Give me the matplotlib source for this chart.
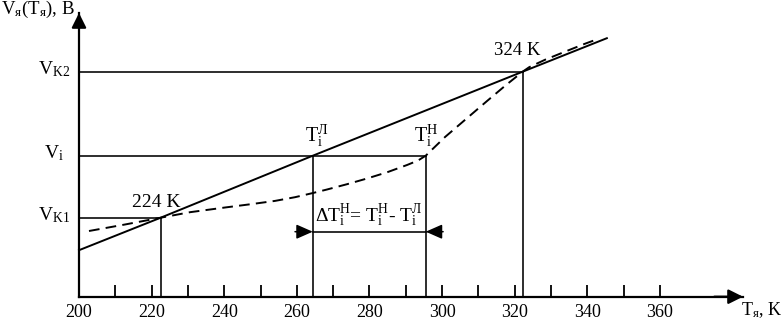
import matplotlib
matplotlib.use('Agg')
import matplotlib.pyplot as plt

plt.rcParams['font.family'] = ['Liberation Serif', 'DejaVu Serif']
plt.rcParams['mathtext.fontset'] = 'custom'
plt.rcParams['mathtext.rm'] = 'Liberation Serif'
plt.rcParams['mathtext.it'] = 'Liberation Serif:italic'
plt.rcParams['mathtext.bf'] = 'Liberation Serif:bold'

# ---- data ----
t_solid = [200, 222.5, 264.4, 322.2, 345.4]
v_solid = [0.465, 0.79, 1.41, 2.25, 2.585]

t_dash = [202.75, 212.67, 222.5, 230.58, 240.22, 247.11, 253.99, 259.50,
          264.46, 268.32, 273.83, 279.34, 284.85, 290.36, 293.39, 295.5,
          300.83, 306.61, 312.40, 317.63, 322.2, 324.0, 328.4, 334.4, 339.4,
          343.0]
v_dash = [0.657, 0.722, 0.79, 0.845, 0.892, 0.924, 0.958, 0.995,
          1.037, 1.072, 1.125, 1.182, 1.244, 1.317, 1.362, 1.41,
          1.597, 1.777, 1.957, 2.117, 2.25, 2.295, 2.37, 2.458, 2.53,
          2.578]

T_K1, T_L, T_H, T_K2 = 222.5, 264.4, 295.5, 322.2
V_K1, V_I, V_K2 = 0.79, 1.41, 2.25

x_major = [200, 220, 240, 260, 280, 300, 320, 340, 360]
x_minor = [210, 230, 250, 270, 290, 310, 330, 350]
y_ticks = [V_K1, V_I, V_K2]
y_labels = [r'V$_{\mathrm{K1}}$', r'V$_{\mathrm{i}}$', r'V$_{\mathrm{K2}}$']

fig = plt.figure(figsize=(7.81, 3.21), dpi=100)
ax = fig.add_axes([79 / 781, 24.3 / 321, 664 / 781, 283.7 / 321])
ax.set_xlim(200, 382.9)
ax.set_ylim(0, 2.837)

for s in ['top', 'right']:
    ax.spines[s].set_visible(False)
for s in ['left', 'bottom']:
    ax.spines[s].set_linewidth(1.6)

ax.set_xticks(x_major)
ax.set_xticks(x_minor, minor=True)
ax.tick_params(axis='x', which='both', direction='in', length=8.5, width=1.3,
               labelsize=13, pad=5.5)
ax.set_yticks([])

# y "tick" labels, centred left of the axis, slightly above each level line
for v, lab in zip(y_ticks, y_labels):
    ax.text(-0.0377, v - 0.03, lab, transform=ax.get_yaxis_transform(),
            ha='center', va='baseline', fontsize=14)

# axis arrowheads
ap = dict(arrowstyle='-|>,head_length=0.4,head_width=0.2', color='black',
          lw=1.6, mutation_scale=22, shrinkA=0, shrinkB=0)
ax.annotate('', xy=(382.9, 0), xytext=(375, 0), arrowprops=ap,
            annotation_clip=False)
ax.annotate('', xy=(200, 2.837), xytext=(200, 2.70), arrowprops=ap,
            annotation_clip=False)

# guide lines
glw = 1.15
ax.plot([200, T_K1], [V_K1, V_K1], color='black', lw=glw)
ax.plot([T_K1, T_K1], [0, V_K1], color='black', lw=glw)
ax.plot([200, T_H], [V_I, V_I], color='black', lw=glw)
ax.plot([T_L, T_L], [0, V_I], color='black', lw=glw)
ax.plot([T_H, T_H], [0, V_I], color='black', lw=glw)
ax.plot([200, T_K2], [V_K2, V_K2], color='black', lw=glw)
ax.plot([T_K2, T_K2], [0, V_K2], color='black', lw=glw)

# curves
ax.plot(t_solid, v_solid, color='black', lw=1.4, clip_on=False)
ax.plot(t_dash, v_dash, color='black', lw=1.4, dashes=(5.5, 3.2),
        clip_on=False)

# dimension arrows
V_DIM = 0.65
ax.plot([T_L, T_H], [V_DIM, V_DIM], color='black', lw=glw)
dp = dict(arrowstyle='-|>,head_length=0.5,head_width=0.22', color='black',
          lw=1.1, mutation_scale=20, shrinkA=0, shrinkB=0)
ax.annotate('', xy=(T_L, V_DIM), xytext=(259.5, V_DIM), arrowprops=dp)
ax.annotate('', xy=(T_H, V_DIM), xytext=(300.3, V_DIM), arrowprops=dp)

# annotations
ax.text(221.2, 0.897, '224 K', ha='center', va='baseline', fontsize=14)
ax.text(320.8, 2.417, '324 K', ha='center', va='baseline', fontsize=13.5)
ax.text(265.5, 1.547, r'T$_{\mathrm{i}}^{\mathrm{Л}}$', ha='center',
        va='baseline', fontsize=14.5)
ax.text(295.5, 1.547, r'T$_{\mathrm{i}}^{\mathrm{Н}}$', ha='center',
        va='baseline', fontsize=14.5)
ax.text(279.75, 0.747,
        r'ΔT$_{\mathrm{i}}^{\mathrm{Н}}$= T$_{\mathrm{i}}^{\mathrm{Н}}$- T$_{\mathrm{i}}^{\mathrm{Л}}$',
        ha='center', va='baseline', fontsize=14)

fig.text(1 / 781, 1 - 14 / 321, r'V$_{\mathrm{я}}$(T$_{\mathrm{я}}$), B',
         ha='left', va='baseline', fontsize=13.5)
fig.text(741 / 781, 6 / 321, r'T$_{\mathrm{я}}$, K',
         ha='left', va='baseline', fontsize=13)

fig.savefig('out.png', dpi=100)
